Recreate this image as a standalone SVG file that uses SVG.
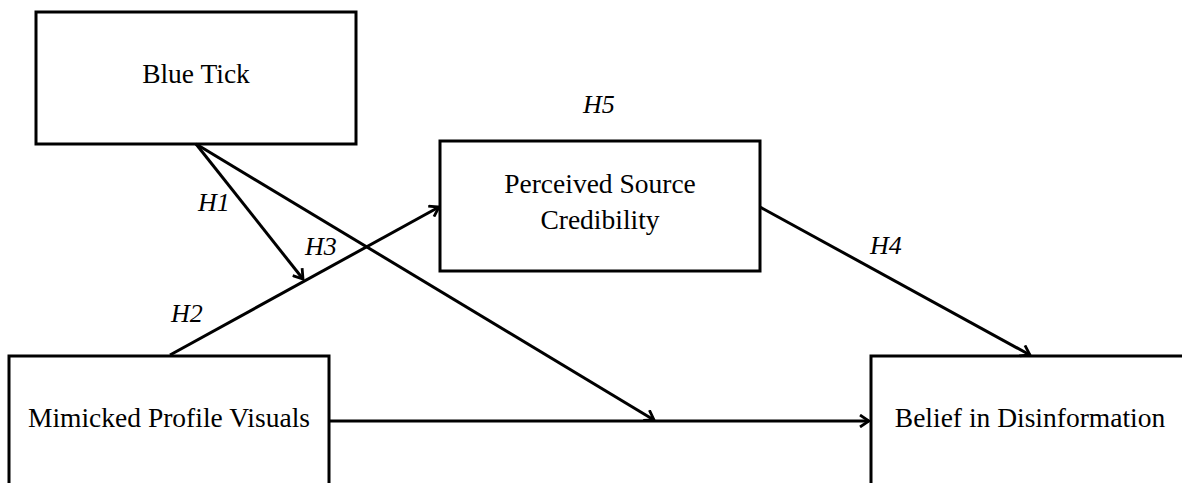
<svg xmlns="http://www.w3.org/2000/svg" width="1182" height="483" viewBox="0 0 1182 483">
  <style>
    .box { fill: #ffffff; stroke: #000000; stroke-width: 3; }
    .lbl { font-family: "Liberation Serif", "Times New Roman", serif; font-size: 27.5px; fill: #000000; text-anchor: middle; }
    .hyp { font-family: "Liberation Serif", "Times New Roman", serif; font-size: 26px; font-style: italic; fill: #000000; }
    .conn { stroke: #000000; stroke-width: 3; fill: none; }
  </style>
  <defs>
    <marker id="arr" viewBox="0 0 12 14" refX="10.5" refY="7" markerWidth="12" markerHeight="14" markerUnits="userSpaceOnUse" orient="auto">
      <path d="M1.5,1 L10.5,7 L1.5,13" fill="none" stroke="#000000" stroke-width="2.8" stroke-linejoin="miter"/>
    </marker>
  </defs>
  <rect width="1182" height="483" fill="#ffffff"/>

  <g id="node-blue-tick">
    <rect class="box" x="36" y="12" width="320" height="132"/>
    <text class="lbl" x="196" y="83">Blue Tick</text>
  </g>

  <g id="node-perceived-source-credibility">
    <rect class="box" x="440" y="141" width="320" height="130"/>
    <text class="lbl" x="600" y="193">Perceived Source</text>
    <text class="lbl" x="600" y="229">Credibility</text>
  </g>

  <g id="node-mimicked-profile-visuals">
    <rect class="box" x="9" y="356" width="320" height="140"/>
    <text class="lbl" x="169" y="427">Mimicked Profile Visuals</text>
  </g>

  <g id="node-belief-in-disinformation">
    <rect class="box" x="871" y="356" width="330" height="140"/>
    <text class="lbl" x="1030" y="427">Belief in Disinformation</text>
  </g>

  <g id="connectors">
    <line class="conn" x1="196" y1="144" x2="303" y2="279" marker-end="url(#arr)"/>
    <line class="conn" x1="196" y1="144" x2="654" y2="420" marker-end="url(#arr)"/>
    <line class="conn" x1="170" y1="355" x2="439" y2="207" marker-end="url(#arr)"/>
    <line class="conn" x1="760" y1="207" x2="1030" y2="355" marker-end="url(#arr)"/>
    <line class="conn" x1="329" y1="421" x2="869" y2="421" marker-end="url(#arr)"/>
  </g>

  <g id="labels">
    <text class="hyp" x="583" y="113">H5</text>
    <text class="hyp" x="198" y="211">H1</text>
    <text class="hyp" x="305" y="255">H3</text>
    <text class="hyp" x="171" y="322">H2</text>
    <text class="hyp" x="870" y="254">H4</text>
  </g>
</svg>
